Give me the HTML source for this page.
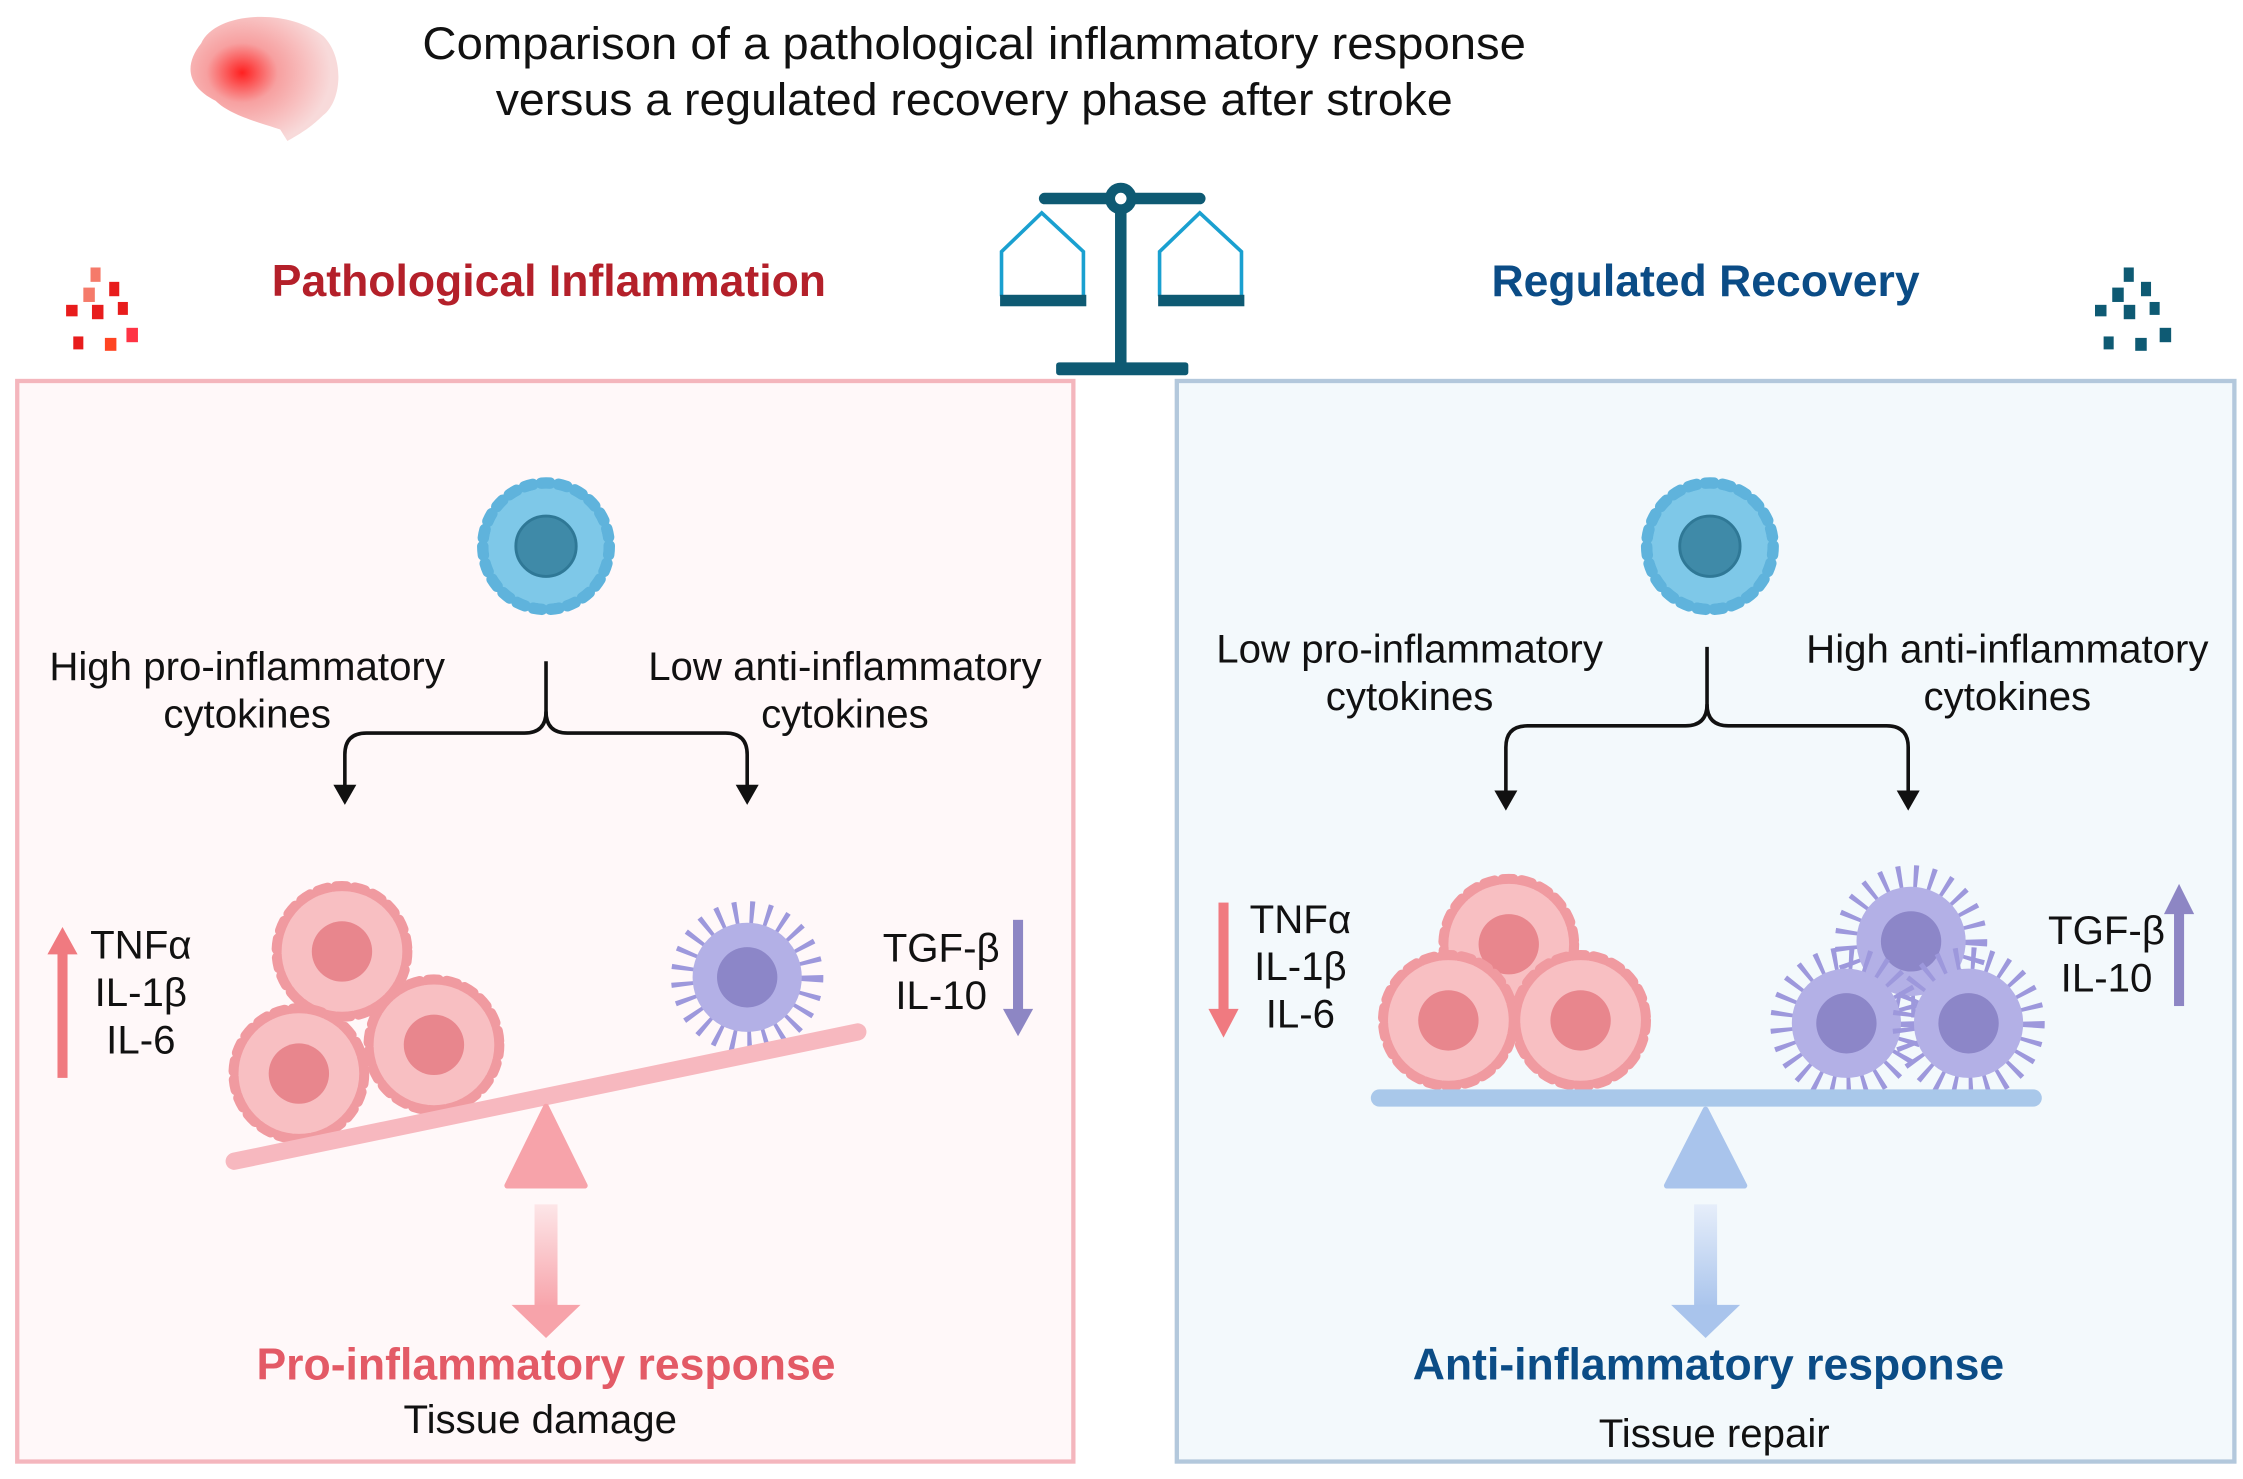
<!DOCTYPE html>
<html><head><meta charset="utf-8"><style>
html,body{margin:0;padding:0;background:#fff}
svg{display:block}
text{font-family:"Liberation Sans",sans-serif}
</style></head><body>
<svg width="2243" height="1479" viewBox="0 0 1561 1029" xmlns="http://www.w3.org/2000/svg">
<defs>
<radialGradient id="brain" cx="0.35" cy="0.45" r="0.6"><stop offset="0" stop-color="#ff2020"/><stop offset="0.4" stop-color="#f7a0a0"/><stop offset="1" stop-color="#f8dada"/></radialGradient>
<linearGradient id="gp" x1="0" y1="0" x2="0" y2="1"><stop offset="0" stop-color="#fde6e8"/><stop offset="1" stop-color="#f7a3aa"/></linearGradient>
<linearGradient id="gb" x1="0" y1="0" x2="0" y2="1"><stop offset="0" stop-color="#e6eefa"/><stop offset="1" stop-color="#a9c4ec"/></linearGradient>
<g id="bcell"><circle r="44" fill="#7ec8e8" stroke="#5fb3dc" stroke-width="8" stroke-dasharray="6 6" stroke-linecap="round"/><circle r="40" fill="#7ec8e8"/><circle r="21" fill="#3f8aa8" stroke="#2f7896" stroke-width="2"/></g>
<g id="pcell"><circle r="45" fill="#f7b4b8" stroke="#f09aa0" stroke-width="8" stroke-dasharray="7 6" stroke-linecap="round"/><circle r="42" fill="#f8bfc2"/><circle r="21" fill="#e8868d"/></g>
<g id="vcell"><circle r="44" fill="none" stroke="#9d98dc" stroke-width="18" stroke-dasharray="3 8"/><circle r="38" fill="#b3b0e6"/><circle r="21" fill="#8c86c8"/></g>
</defs>
<rect width="1561" height="1029" fill="#fff"/>
<path d="M140 30 C150 8 200 5 225 25 C240 40 238 70 225 80 C215 90 205 95 200 98 L195 90 C180 85 160 80 150 70 C130 60 128 45 140 30Z" fill="url(#brain)"/>
<text x="678" y="41" font-size="31.5" text-anchor="middle" fill="#111" textLength="768" lengthAdjust="spacingAndGlyphs">Comparison of a pathological inflammatory response</text>
<text x="678" y="80" font-size="31.5" text-anchor="middle" fill="#111" textLength="666" lengthAdjust="spacingAndGlyphs">versus a regulated recovery phase after stroke</text>
<g fill="#e81c1c"><rect x="63" y="186" width="7" height="10" fill="#f57a6a"/><rect x="58" y="200" width="8" height="10" fill="#f57a6a"/><rect x="76" y="196" width="7" height="10"/><rect x="46" y="212" width="8" height="8"/><rect x="64" y="212" width="8" height="10"/><rect x="82" y="210" width="7" height="9"/><rect x="88" y="228" width="8" height="10" fill="#f34"/><rect x="51" y="234" width="7" height="9"/><rect x="73" y="235" width="8" height="9" fill="#f42"/></g>
<g fill="#0e5a73"><rect x="1478" y="186" width="7" height="10"/><rect x="1470" y="200" width="8" height="10"/><rect x="1490" y="196" width="7" height="10"/><rect x="1458" y="212" width="8" height="8"/><rect x="1478" y="212" width="8" height="10"/><rect x="1496" y="210" width="7" height="9"/><rect x="1503" y="228" width="8" height="10"/><rect x="1464" y="234" width="7" height="9"/><rect x="1486" y="235" width="8" height="9"/></g>
<text x="382" y="206" font-size="31" font-weight="bold" text-anchor="middle" fill="#b4202a">Pathological Inflammation</text>
<text x="1187" y="206" font-size="31" font-weight="bold" text-anchor="middle" fill="#0b4c86">Regulated Recovery</text>
<g>
<rect x="723" y="134" width="116" height="8" rx="4" fill="#0e5a73"/>
<circle cx="780" cy="138" r="11" fill="#0e5a73"/><circle cx="780" cy="138" r="4" fill="#fff"/>
<rect x="776" y="145" width="8" height="110" fill="#0e5a73"/>
<rect x="735" y="252" width="92" height="9" rx="2" fill="#0e5a73"/>
<path d="M697 206 L697 175 L725 148 L754 175 L754 206" fill="none" stroke="#1aa0d0" stroke-width="2.5"/>
<rect x="696" y="205" width="60" height="8" fill="#0e5a73"/>
<path d="M807 206 L807 175 L835 148 L864 175 L864 206" fill="none" stroke="#1aa0d0" stroke-width="2.5"/>
<rect x="806" y="205" width="60" height="8" fill="#0e5a73"/>
</g>
<rect x="12" y="265" width="735" height="752" fill="#fff8f9" stroke="#f4b6bd" stroke-width="3"/>
<rect x="819" y="265" width="736" height="752" fill="#f3f9fc" stroke="#b3c8dc" stroke-width="3"/>
<use href="#bcell" x="380" y="380"/>
<g font-size="28" fill="#111" text-anchor="middle">
<text x="172" y="473">High pro-inflammatory</text><text x="172" y="506">cytokines</text>
<text x="588" y="473">Low anti-inflammatory</text><text x="588" y="506">cytokines</text>
<text x="98" y="667">TNFα</text><text x="98" y="700">IL-1β</text><text x="98" y="733">IL-6</text>
<text x="655" y="669">TGF-β</text><text x="655" y="702">IL-10</text>
</g>
<g fill="none" stroke="#111" stroke-width="2.5"><path d="M380 460 V495 Q380 510 365 510 H255 Q240 510 240 525 V548"/><path d="M380 495 Q380 510 395 510 H505 Q520 510 520 525 V548"/></g>
<path d="M232 546 L248 546 L240 560Z M512 546 L528 546 L520 560Z" fill="#111"/>
<rect x="40" y="660" width="7" height="90" fill="#f07a80"/><path d="M33 664 L54 664 L43.5 645Z" fill="#f07a80"/>
<rect x="705" y="640" width="7" height="65" fill="#8d86c4"/><path d="M698 702 L719 702 L708.5 721Z" fill="#8d86c4"/>
<use href="#vcell" x="520" y="680"/>
<use href="#pcell" x="238" y="662"/><use href="#pcell" x="208" y="747"/><use href="#pcell" x="302" y="727"/>
<line x1="163" y1="808" x2="597" y2="718" stroke="#f7b8bf" stroke-width="12" stroke-linecap="round"/>
<path d="M380 770 L407 825 L353 825Z" fill="#f7a3aa" stroke="#f7a3aa" stroke-width="4" stroke-linejoin="round"/>
<rect x="372" y="838" width="16" height="72" fill="url(#gp)"/><path d="M356 908 L404 908 L380 931Z" fill="#f7a3aa"/>
<text x="380" y="960" font-size="31" font-weight="bold" text-anchor="middle" fill="#e35a66">Pro-inflammatory response</text>
<text x="376" y="997" font-size="28" text-anchor="middle" fill="#111">Tissue damage</text>
<use href="#bcell" x="1190" y="380"/>
<g font-size="28" fill="#111" text-anchor="middle">
<text x="981" y="461">Low pro-inflammatory</text><text x="981" y="494">cytokines</text>
<text x="1397" y="461">High anti-inflammatory</text><text x="1397" y="494">cytokines</text>
<text x="905" y="649">TNFα</text><text x="905" y="682">IL-1β</text><text x="905" y="715">IL-6</text>
<text x="1466" y="657">TGF-β</text><text x="1466" y="690">IL-10</text>
</g>
<g fill="none" stroke="#111" stroke-width="2.5"><path d="M1188 450 V490 Q1188 505 1173 505 H1063 Q1048 505 1048 520 V552"/><path d="M1188 490 Q1188 505 1203 505 H1313 Q1328 505 1328 520 V552"/></g>
<path d="M1040 550 L1056 550 L1048 564Z M1320 550 L1336 550 L1328 564Z" fill="#111"/>
<rect x="848" y="628" width="7" height="78" fill="#f07a80"/><path d="M841 702 L862 702 L851.5 722Z" fill="#f07a80"/>
<rect x="1513" y="632" width="7" height="68" fill="#8d86c4"/><path d="M1506 636 L1527 636 L1516.5 615Z" fill="#8d86c4"/>
<use href="#vcell" x="1330" y="655"/><use href="#vcell" x="1285" y="712"/><use href="#vcell" x="1370" y="712"/>
<use href="#pcell" x="1050" y="657"/><use href="#pcell" x="1008" y="710"/><use href="#pcell" x="1100" y="710"/>
<line x1="960" y1="764" x2="1415" y2="764" stroke="#a9c8ea" stroke-width="12" stroke-linecap="round"/>
<path d="M1187 772 L1214 825 L1160 825Z" fill="#a9c4ec" stroke="#a9c4ec" stroke-width="4" stroke-linejoin="round"/>
<rect x="1179" y="838" width="16" height="72" fill="url(#gb)"/><path d="M1163 908 L1211 908 L1187 931Z" fill="#a9c4ec"/>
<text x="1189" y="960" font-size="31" font-weight="bold" text-anchor="middle" fill="#0b4c86">Anti-inflammatory response</text>
<text x="1193" y="1007" font-size="28" text-anchor="middle" fill="#111">Tissue repair</text>
</svg>
</body></html>
